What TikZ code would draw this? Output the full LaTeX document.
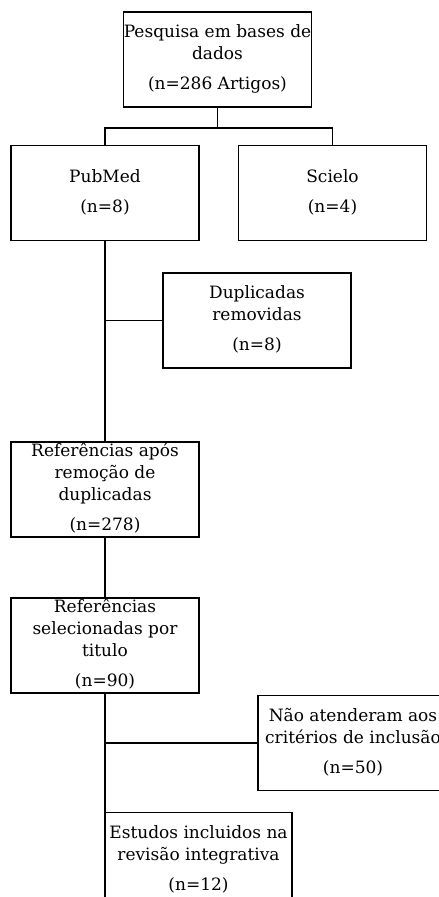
\documentclass[tikz,border=0pt]{standalone}
\usepackage{fontspec}
\setmainfont{DejaVu Serif}
\usepackage{tikz}
\usetikzlibrary{positioning}

\newcommand{\boxlines}[1]{\smash{\raisebox{-4pt}{\begin{tabular}{@{}c@{}}#1\end{tabular}}}}

\begin{document}
\begin{tikzpicture}[on grid,line width=1.6pt,x=1pt,y=1pt]
\tikzstyle{stage} = [draw=black,rectangle,minimum width=188pt,minimum height=95pt,inner sep=0pt,font=\fontsize{17}{22}\selectfont]
    \useasboundingbox (0,0) rectangle (439,-897);

    \node[stage] (search) at (217.5,-59.5) {\boxlines{Pesquisa em bases de\\dados\\[8pt](n=286 Artigos)}};
    \node[stage] (pubmed) [below left=133.5pt and 112.5pt of search] {\boxlines{PubMed\\[8pt](n=8)}};
    \node[stage] (scielo) [right=227.5pt of pubmed] {\boxlines{Scielo\\[8pt](n=4)}};
    \node[stage] (dup) [below right=127.5pt and 152pt of pubmed] {\boxlines{Duplicadas\\removidas\\[8pt](n=8)}};
    \node[stage] (refdup) [below=296.5pt of pubmed] {\boxlines{Referências após\\remoção de\\duplicadas\\[8pt](n=278)}};
    \node[stage] (refsel) [below=156pt of refdup] {\boxlines{Referências\\selecionadas por\\titulo\\[8pt](n=90)}};
    \node[stage,minimum width=190pt] (nao) [below right=97.5pt and 248pt of refsel] {\boxlines{Não atenderam aos\\critérios de inclusão\\[8pt](n=50)}};
    \node[stage,minimum width=187pt] (estudos) [below right=214.5pt and 93.5pt of refsel] {\boxlines{Estudos incluidos na\\revisão integrativa\\[8pt](n=12)}};

    % search splits into the two databases
    \draw (search.south) -- ++(0,-20) coordinate (split);
    \draw (pubmed.north) |- (split) -| (scielo.north);

    % main trunk
    \draw (pubmed.south) -- (refdup.north);
    \draw (dup.west) -- (dup.west -| pubmed.south);
    \draw (refdup.south) -- (refsel.north);
    \draw (refsel.south) -- (refsel.south |- estudos.north);
    \draw (nao.west) -- (nao.west -| refsel.south);
\end{tikzpicture}
\end{document}
